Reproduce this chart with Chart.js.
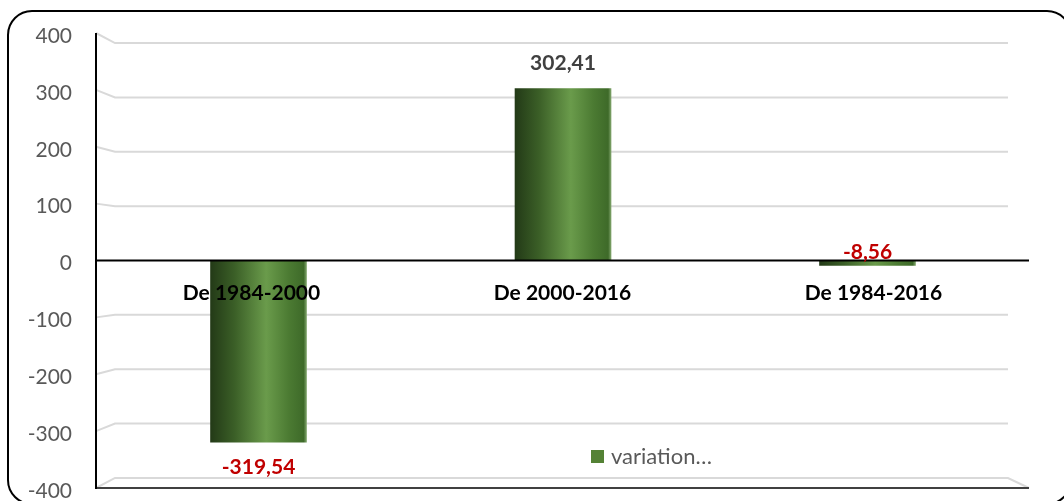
<!DOCTYPE html>
<html lang="fr">
<head>
  <meta charset="UTF-8" />
  <title>Variation</title>
  <script src="https://cdn.jsdelivr.net/npm/chart.js"></script>
  <style>
    html,body{margin:0;padding:0;background:#fff}
    #wrap{width:1064px;height:501px;position:relative;overflow:hidden}
  </style>
</head>
<body>
<div id="wrap"><canvas id="chart" width="1064" height="501"></canvas></div>
<script>
// données
const categories = ['De 1984-2000', 'De 2000-2016', 'De 1984-2016'];
const variation = [-319.54, 302.41, -8.56];
const seriesName = 'variation…';
const yTicks = [-400, -300, -200, -100, 0, 100, 200, 300, 400];

const FONT = 'Lato, "Open Sans", sans-serif';
const GREEN = '#548235';

function barGradient(c){
  const chart = c.chart, sc = chart.scales.x2;
  if(!sc || !chart.chartArea) return GREEN;
  const cx = sc.getPixelForValue(c.dataIndex), w = 96;
  const g = chart.ctx.createLinearGradient(cx - w/2, 0, cx + w/2, 0);
  g.addColorStop(0, '#233a17');
  g.addColorStop(0.25, '#3b5f27');
  g.addColorStop(0.58, '#6a9b4b');
  g.addColorStop(0.82, '#4b7a32');
  g.addColorStop(0.97, '#3e6a29');
  g.addColorStop(1, '#7fa46a');
  return g;
}

const fmt = v => v.toFixed(2).replace('.', ',');

// cadre, murs et sol en perspective
const decor = {
  id: 'decor',
  beforeDatasetsDraw(chart){
    const {ctx, chartArea: a, scales: {y}} = chart;
    const y0 = y.getPixelForValue(0);
    const back = v => y0 + (y.getPixelForValue(v) - y0) * 0.956;
    ctx.save();
    ctx.lineWidth = 2;
    ctx.strokeStyle = '#d9d9d9';
    yTicks.forEach(v => {
      if(v === 0) return;
      ctx.beginPath();
      ctx.moveTo(a.left, y.getPixelForValue(v));
      ctx.lineTo(a.left + 19, back(v));
      ctx.lineTo(a.right - 21, back(v));
      if(v === yTicks[0]) ctx.lineTo(a.right, y.getPixelForValue(v));
      ctx.stroke();
    });
    // sol avant
    ctx.strokeStyle = '#404040';
    ctx.beginPath();
    ctx.moveTo(a.left, a.bottom); ctx.lineTo(a.right, a.bottom);
    ctx.stroke();
    ctx.restore();
  },
  afterDatasetsDraw(chart){
    const {ctx, chartArea: a, scales: {y, x2}} = chart;
    const y0 = y.getPixelForValue(0);
    ctx.save();
    // ligne du zéro et axe vertical
    ctx.strokeStyle = '#000';
    ctx.lineWidth = 2;
    ctx.beginPath();
    ctx.moveTo(a.left, y0); ctx.lineTo(a.right, y0);
    ctx.moveTo(a.left, a.top); ctx.lineTo(a.left, a.bottom + 1);
    ctx.stroke();
    // étiquettes de données
    ctx.font = 'bold 21px ' + FONT;
    ctx.textAlign = 'center';
    ctx.textBaseline = 'middle';
    variation.forEach((v, i) => {
      const cx = x2.getPixelForValue(i), py = y.getPixelForValue(v);
      let ty;
      if(Math.abs(py - y0) < 30) ty = y0 - 8;
      else ty = v >= 0 ? py - 25 : py + 25;
      ctx.fillStyle = v >= 0 ? '#404040' : '#c00000';
      ctx.fillText(fmt(v), cx, ty);
    });
    // légende
    ctx.fillStyle = GREEN;
    ctx.fillRect(591, 450, 13, 13);
    ctx.fillStyle = '#595959';
    ctx.font = '22px ' + FONT;
    ctx.textAlign = 'left';
    ctx.fillText(seriesName, 611, 457);
    ctx.restore();
  },
  afterDraw(chart){
    const ctx = chart.ctx;
    ctx.save();
    ctx.strokeStyle = '#000';
    ctx.lineWidth = 2;
    ctx.beginPath();
    ctx.roundRect(8, 11, 1063, 493, 24);
    ctx.stroke();
    ctx.restore();
  }
};

new Chart(document.getElementById('chart'), {
  type: 'bar',
  data: {
    labels: categories,
    datasets: [{
      label: seriesName,
      data: variation.map((v, i) => ({x: i, y: v})),
      xAxisID: 'x2',
      backgroundColor: barGradient,
      borderWidth: 0,
      barThickness: 96
    }]
  },
  options: {
    responsive: false,
    animation: false,
    layout: {padding: {left: 0, right: 35, top: 33, bottom: 13}},
    plugins: {legend: {display: false}, tooltip: {enabled: false}},
    scales: {
      x: {
        type: 'category',
        position: {y: 0},
        offset: true,
        grid: {display: false, drawTicks: false},
        border: {display: false},
        ticks: {z: 1, color: '#000', font: {family: FONT, size: 21, weight: 'bold'}, padding: 20, maxRotation: 0}
      },
      x2: {
        type: 'linear',
        display: false,
        offset: false,
        min: -0.5337,
        max: 2.5303
      },
      y: {
        min: -400, max: 400,
        afterFit: s => { s.width = 96; },
        grid: {drawOnChartArea: false, drawTicks: true, tickLength: 24, tickColor: 'rgba(0,0,0,0)'},
        border: {display: false},
        ticks: {stepSize: 100, color: '#595959', font: {family: FONT, size: 21}, padding: 0, labelOffset: 3}
      }
    }
  },
  plugins: [decor]
});
</script>
</body>
</html>
